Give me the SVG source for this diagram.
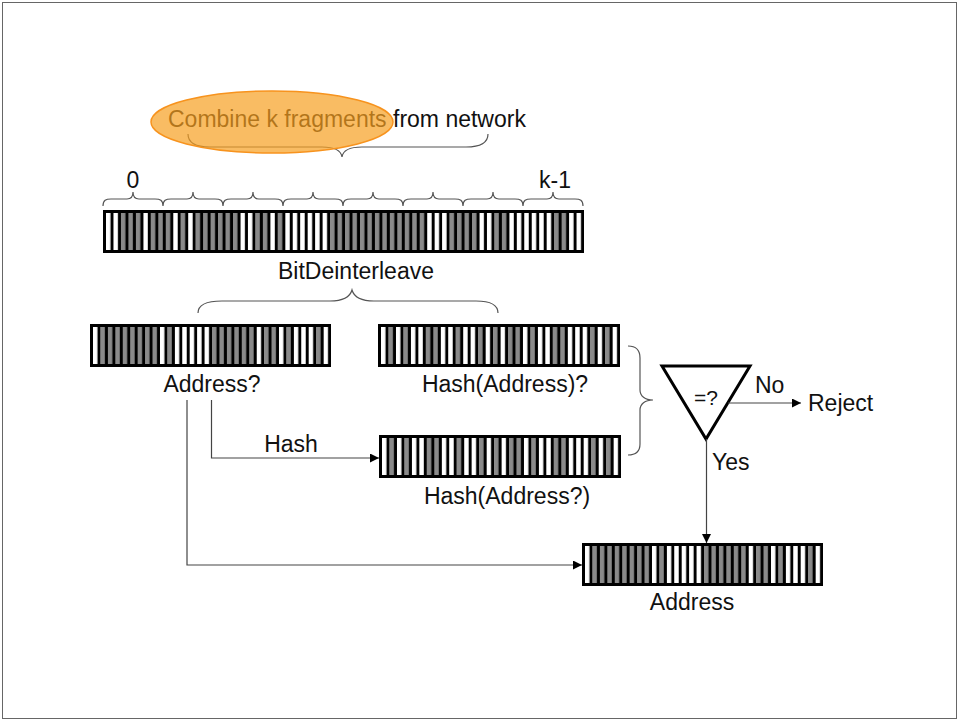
<svg xmlns="http://www.w3.org/2000/svg" width="959" height="721" viewBox="0 0 959 721">
<style>
text{font-family:"Liberation Sans",Arial,sans-serif;font-size:23px;fill:#111}
.c{text-anchor:middle}
.g{fill:#8a8a8a}
.br{fill:none;stroke:#555;stroke-width:1.2}
.ln{fill:none;stroke:#444;stroke-width:1.2}
</style>
<defs>
<pattern id="div" patternUnits="userSpaceOnUse" width="1" height="37"><rect x="0.6" width="0.4" height="37" fill="#000"/></pattern>
<marker id="ah" viewBox="0 0 10 10" refX="10" refY="5" markerWidth="9" markerHeight="9" markerUnits="userSpaceOnUse" orient="auto"><path d="M0 0L10 5L0 10z" fill="#000"/></marker>
</defs>
<rect x="2.5" y="2.5" width="954" height="716" fill="#fff" stroke="#666" stroke-width="1"/>

<g id="title">
<text x="168" y="127">Combine k fragments</text>
<text x="393" y="127">from network</text>
<path class="br" d="M188 134C188 143 196 147 210 147L322 147C335 147 341 150 342 157C343 150 349 147 362 147L466 147C480 147 488 143 488 134"/>
<ellipse cx="272" cy="122" rx="121" ry="31" fill="#f7a021" fill-opacity="0.7" stroke="#f7931e" stroke-width="1.5"/>
</g>

<g id="fragments">
<text class="c" x="133" y="188">0</text>
<text class="c" x="555" y="188">k-1</text>
<path class="br" d="M103 206c0-6 3-7 8-7h16c4 0 6-2 6-7c0 5 2 7 6 7h16c5 0 8 1 8 7M163 206c0-6 3-7 8-7h16c4 0 6-2 6-7c0 5 2 7 6 7h16c5 0 8 1 8 7M223 206c0-6 3-7 8-7h16c4 0 6-2 6-7c0 5 2 7 6 7h16c5 0 8 1 8 7M283 206c0-6 3-7 8-7h16c4 0 6-2 6-7c0 5 2 7 6 7h16c5 0 8 1 8 7M343 206c0-6 3-7 8-7h16c4 0 6-2 6-7c0 5 2 7 6 7h16c5 0 8 1 8 7M403 206c0-6 3-7 8-7h16c4 0 6-2 6-7c0 5 2 7 6 7h16c5 0 8 1 8 7M463 206c0-6 3-7 8-7h16c4 0 6-2 6-7c0 5 2 7 6 7h16c5 0 8 1 8 7M523 206c0-6 3-7 8-7h16c4 0 6-2 6-7c0 5 2 7 6 7h16c5 0 8 1 8 7"/>
</g>

<g id="combined" transform="translate(103,210)">
<rect width="481" height="43" fill="#000"/>
<g transform="translate(3,3) scale(7.469,1)">
<rect width="64" height="37" fill="#fff"/>
<rect class="g" x="2" width="3" height="37"/><rect class="g" x="6" width="3" height="37"/><rect class="g" x="10" width="1" height="37"/><rect class="g" x="12" width="6" height="37"/><rect class="g" x="20" width="2" height="37"/><rect class="g" x="23" width="1" height="37"/><rect class="g" x="30" width="13" height="37"/><rect class="g" x="46" width="4" height="37"/><rect class="g" x="52" width="2" height="37"/><rect class="g" x="60" width="2" height="37"/>
<rect width="64" height="37" fill="url(#div)"/>
</g>
</g>

<g id="deinterleave">
<text class="c" x="356" y="279">BitDeinterleave</text>
<path class="br" d="M198 313C198 305 206 301 222 301L330 301C344 301 350 297 352 290C354 297 360 301 374 301L476 301C490 301 498 305 498 313"/>
</g>

<g id="address-q">
<g transform="translate(90,324)">
<rect width="241" height="43" fill="#000"/>
<g transform="translate(3,3) scale(7.4375,1)">
<rect width="32" height="37" fill="#fff"/>
<rect class="g" x="1" width="8" height="37"/><rect class="g" x="10" width="1" height="37"/><rect class="g" x="16" width="6" height="37"/><rect class="g" x="23" width="2" height="37"/><rect class="g" x="26" width="1" height="37"/><rect class="g" x="30" width="1" height="37"/>
<rect width="32" height="37" fill="url(#div)"/>
</g>
</g>
<text class="c" x="212" y="392">Address?</text>
</g>

<g id="hash-address-q">
<g transform="translate(378,324)">
<rect width="242" height="43" fill="#000"/>
<g transform="translate(3,3) scale(7.469,1)">
<rect width="32" height="37" fill="#fff"/>
<rect class="g" x="1" width="1" height="37"/><rect class="g" x="3" width="1" height="37"/><rect class="g" x="6" width="2" height="37"/><rect class="g" x="10" width="1" height="37"/><rect class="g" x="13" width="1" height="37"/><rect class="g" x="15" width="1" height="37"/><rect class="g" x="17" width="2" height="37"/><rect class="g" x="20" width="1" height="37"/><rect class="g" x="23" width="2" height="37"/><rect class="g" x="28" width="1" height="37"/><rect class="g" x="30" width="1" height="37"/>
<rect width="32" height="37" fill="url(#div)"/>
</g>
</g>
<text class="c" x="505" y="392">Hash(Address)?</text>
</g>

<g id="hash-of-address">
<g transform="translate(379,435)">
<rect width="242" height="43" fill="#000"/>
<g transform="translate(3,3) scale(7.469,1)">
<rect width="32" height="37" fill="#fff"/>
<rect class="g" x="1" width="1" height="37"/><rect class="g" x="3" width="1" height="37"/><rect class="g" x="6" width="2" height="37"/><rect class="g" x="10" width="1" height="37"/><rect class="g" x="13" width="1" height="37"/><rect class="g" x="15" width="1" height="37"/><rect class="g" x="17" width="2" height="37"/><rect class="g" x="20" width="1" height="37"/><rect class="g" x="23" width="2" height="37"/><rect class="g" x="28" width="1" height="37"/><rect class="g" x="30" width="1" height="37"/>
<rect width="32" height="37" fill="url(#div)"/>
</g>
</g>
<text class="c" x="507" y="504">Hash(Address?)</text>
</g>

<g id="pair-brace">
<path class="br" d="M628 346C636 346 640 350 640 358L640 390C640 396 645 400 653 400C645 400 640 404 640 410L640 444C640 451 636 455 628 455"/>
</g>

<g id="compare">
<polygon points="662,366 750,366 706,439" fill="#fff" stroke="#000" stroke-width="3" stroke-linejoin="miter"/>
<text class="c" x="706" y="405" style="font-size:21px">=?</text>
</g>

<g id="reject">
<text x="808" y="411">Reject</text>
</g>

<g id="address">
<g transform="translate(582,543)">
<rect width="241" height="43" fill="#000"/>
<g transform="translate(3,3) scale(7.4375,1)">
<rect width="32" height="37" fill="#fff"/>
<rect class="g" x="1" width="8" height="37"/><rect class="g" x="10" width="1" height="37"/><rect class="g" x="16" width="6" height="37"/><rect class="g" x="23" width="2" height="37"/><rect class="g" x="26" width="1" height="37"/><rect class="g" x="30" width="1" height="37"/>
<rect width="32" height="37" fill="url(#div)"/>
</g>
</g>
<text class="c" x="692" y="610">Address</text>
</g>

<g id="connectors">
<path class="ln" d="M211.5 400V458H379" marker-end="url(#ah)"/>
<text class="c" x="291" y="452">Hash</text>
<path class="ln" d="M187 400V565H582" marker-end="url(#ah)"/>
<path class="ln" d="M728 403H801" marker-end="url(#ah)"/>
<text x="755" y="393">No</text>
<path class="ln" d="M706.5 439V543" marker-end="url(#ah)"/>
<text x="712" y="470">Yes</text>
</g>
</svg>
